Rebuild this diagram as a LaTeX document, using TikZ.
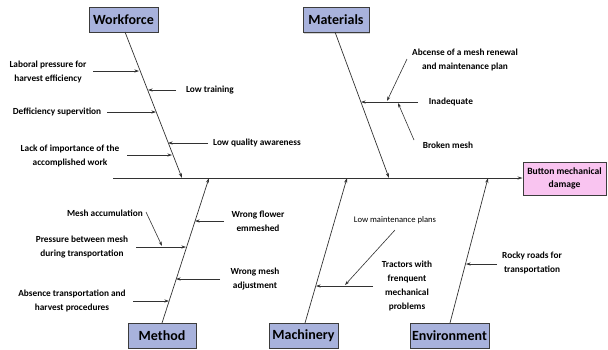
\documentclass[tikz,border=0pt]{standalone}
\usepackage{fontspec}
\setmainfont{Carlito}
\usetikzlibrary{arrows.meta,shadows}
\definecolor{catfill}{RGB}{168,178,220}
\definecolor{effectfill}{RGB}{249,196,240}
\definecolor{edge}{RGB}{60,60,60}
\definecolor{ink}{RGB}{50,50,50}
\begin{document}
\begin{tikzpicture}[x=1pt,y=-1pt,
  catbox/.style={draw=edge,line width=0.9pt,fill=catfill,minimum height=25pt,
    inner sep=0pt,font=\fontsize{14}{16}\selectfont\bfseries,
    drop shadow={shadow xshift=1.2pt,shadow yshift=-1.2pt,opacity=0.35}},
  effectbox/.style={draw=edge,line width=0.9pt,fill=effectfill,minimum width=83pt,
    minimum height=33pt,inner sep=0pt,align=center,
    font=\fontsize{9.6}{12.5}\selectfont\bfseries,
    drop shadow={shadow xshift=1.2pt,shadow yshift=-1.2pt,opacity=0.35}},
  cause/.style={align=center,inner sep=0pt,font=\fontsize{9.3}{14}\selectfont\bfseries},
  smallcause/.style={align=center,inner sep=0pt,font=\fontsize{8.6}{10}\selectfont},
  bone/.style={draw=ink,line width=0.7pt,-{Stealth[length=5pt,width=3.2pt]}},
  twig/.style={draw=ink,line width=0.6pt,-{Stealth[length=4.5pt,width=3pt]}}]
\useasboundingbox (0,0) rectangle (608,349);

% category heads
\node[catbox,minimum width=69pt] (workforce) at (123.5,19.5) {Workforce};
\node[catbox,minimum width=66pt] (materials) at (336,20) {Materials};
\node[catbox,minimum width=68pt] (method) at (162,335.5) {Method};
\node[catbox,minimum width=69pt] (machinery) at (303.5,335.5) {Machinery};
\node[catbox,minimum width=79pt] (environment) at (449.5,335.5) {Environment};
\node[effectbox] (effect) at (564.5,178.5) {Button mechanical\\damage};

% spine
\coordinate (tail) at (113,178);
\draw[bone] (tail) -- (effect.west |- tail);

% main bones
\coordinate (wfTop) at (125,32);   \coordinate (wfEnd) at (182,178);
\coordinate (maTop) at (335,32);   \coordinate (maEnd) at (389,178);
\coordinate (meBot) at (162,323);  \coordinate (meEnd) at (209,178);
\coordinate (mcBot) at (305,323);  \coordinate (mcEnd) at (347,178);
\coordinate (enBot) at (450,323);  \coordinate (enEnd) at (488,178);
\draw[bone] (wfTop) -- (wfEnd);
\draw[bone] (maTop) -- (maEnd);
\draw[bone] (meBot) -- (meEnd);
\draw[bone] (mcBot) -- (mcEnd);
\draw[bone] (enBot) -- (enEnd);

% workforce causes
\node[cause] (w1) at (48,72) {Laboral pressure for\\harvest efficiency};
\node[cause] (w2) at (210,90) {Low training};
\node[cause] (w3) at (57,112) {Defficiency supervition};
\node[cause] (w4) at (257,143) {Low quality awareness};
\node[cause] (w5) at (70,155.5) {Lack of importance of the\\accomplished work};
\coordinate (w1s) at (93,71);   \coordinate (w1t) at (139,71);
\coordinate (w2s) at (176,90);  \coordinate (w2t) at (148,90);
\coordinate (w3s) at (107,112); \coordinate (w3t) at (156,112);
\coordinate (w4s) at (208,143); \coordinate (w4t) at (168,143);
\coordinate (w5s) at (127,155); \coordinate (w5t) at (172,155);
\draw[twig] (w1s) -- (w1t);
\draw[twig] (w2s) -- (w2t);
\draw[twig] (w3s) -- (w3t);
\draw[twig] (w4s) -- (w4t);
\draw[twig] (w5s) -- (w5t);

% materials causes
\node[cause] (m1) at (465,60) {Abcense of a mesh renewal\\and maintenance plan};
\node[cause] (m2) at (451,102) {Inadequate};
\node[cause] (m3) at (448,145) {Broken mesh};
\coordinate (m2s) at (418,102); \coordinate (m2t) at (361,102);
\coordinate (m1s) at (407,59);  \coordinate (m1t) at (387,101);
\coordinate (m3s) at (414,140); \coordinate (m3t) at (398,103);
\draw[twig] (m2s) -- (m2t);
\draw[twig] (m1s) -- (m1t);
\draw[twig] (m3s) -- (m3t);

% method causes
\node[cause] (e1) at (105,213) {Mesh accumulation};
\node[cause] (e2) at (82,247.5) {Pressure between mesh\\during transportation};
\node[cause] (e3) at (258,221) {Wrong flower\\emmeshed};
\node[cause] (e4) at (255,279.5) {Wrong mesh\\adjustment};
\node[cause] (e5) at (72,301) {Absence transportation and\\harvest procedures};
\coordinate (e1s) at (146,212); \coordinate (e1t) at (162,246);
\coordinate (e2s) at (136,247); \coordinate (e2t) at (186,247);
\coordinate (e3s) at (224,221); \coordinate (e3t) at (195,221);
\coordinate (e4s) at (220,279); \coordinate (e4t) at (176,279);
\coordinate (e5s) at (133,301); \coordinate (e5t) at (169,301);
\draw[twig] (e1s) -- (e1t);
\draw[twig] (e2s) -- (e2t);
\draw[twig] (e3s) -- (e3t);
\draw[twig] (e4s) -- (e4t);
\draw[twig] (e5s) -- (e5t);

% machinery causes
\node[smallcause] (c1) at (395,220) {Low maintenance plans};
\node[cause] (c2) at (407,285.5) {Tractors with\\frenquent\\mechanical\\problems};
\coordinate (c2s) at (373,286); \coordinate (c2t) at (316,286);
\coordinate (c1s) at (395,230); \coordinate (c1t) at (345,285);
\draw[twig] (c2s) -- (c2t);
\draw[twig] (c1s) -- (c1t);

% environment causes
\node[cause] (r1) at (532,263) {Rocky roads for\\transportation};
\coordinate (r1s) at (497,264); \coordinate (r1t) at (466,264);
\draw[twig] (r1s) -- (r1t);
\end{tikzpicture}
\end{document}
